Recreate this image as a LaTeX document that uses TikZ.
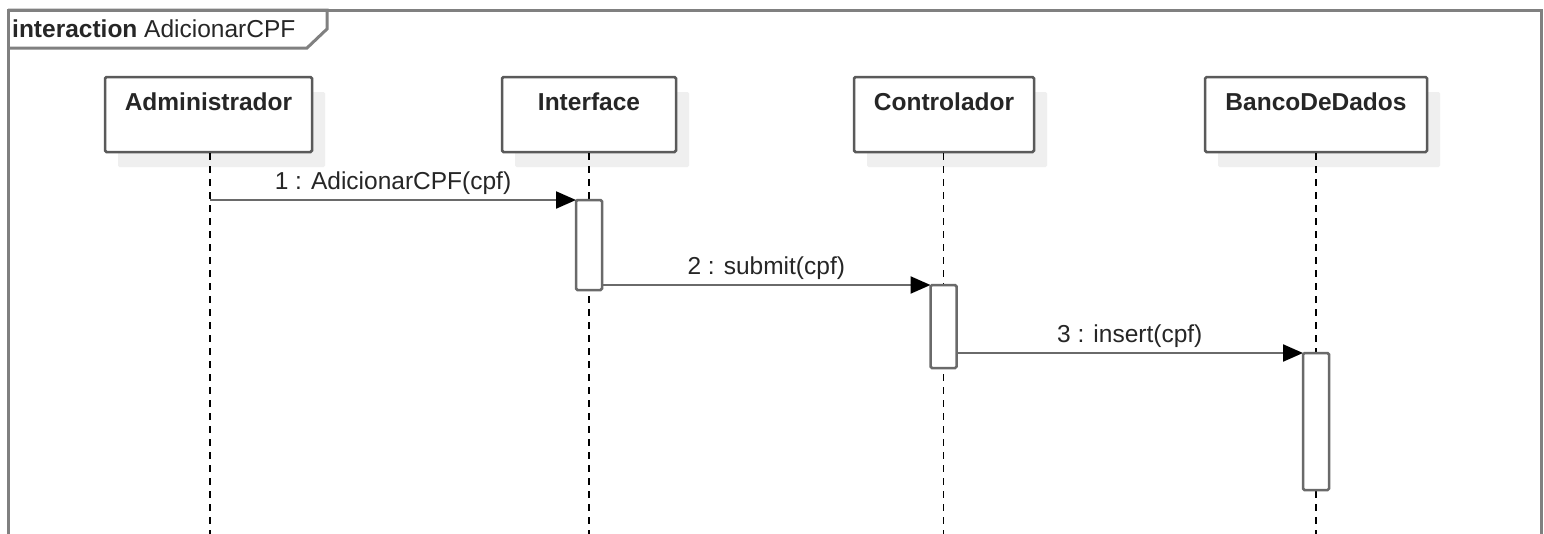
\documentclass[tikz,border=0pt]{standalone}
\usepackage{fontspec}
\setmainfont{Liberation Sans}
\usetikzlibrary{arrows.meta,shadows}
\definecolor{framegray}{HTML}{808080}
\definecolor{boxgray}{HTML}{5A5A5A}
\definecolor{msggray}{HTML}{6A6A6A}
\definecolor{shadowgray}{HTML}{EFEFEF}
\tikzset{
  txt/.style={font=\fontsize{24.5}{29}\selectfont, inner sep=0pt, text=black!85},
  boldtxt/.style={txt, font=\fontsize{24.5}{29}\selectfont\bfseries},
  lifebox/.style={draw=boxgray, line width=2.5pt, fill=white, rounded corners=1.5pt,
    drop shadow={shadow xshift=13pt, shadow yshift=-15pt, fill=shadowgray, opacity=1}},
  actbar/.style={draw=msggray, line width=2.5pt, fill=white, rounded corners=1.5pt,
    minimum width=26pt, outer sep=0pt},
  lifeline/.style={draw=black, line width=1.8pt, dash pattern=on 7pt off 6pt},
  msg/.style={draw=msggray, line width=2.2pt, -{Triangle[length=20pt,width=17pt,color=black]}},
  framestyle/.style={draw=framegray, line width=3pt}
}
\begin{document}
\begin{tikzpicture}[x=1pt,y=-1pt]
\useasboundingbox (0,0) rectangle (1544,533);
\fill[white] (0,0) rectangle (1544,533);
% frame
\coordinate (fbl) at (8,540);
\coordinate (ftl) at (8,10);
\coordinate (ftr) at (1541,10);
\coordinate (fbr) at (1541,540);
\draw[framestyle] (fbl) -- (ftl) -- (ftr) -- (fbr);
\draw[framestyle, line join=miter] (8,10) -- (327,10) -- (327,29) -- (307,48) -- (8,48);
\node[txt, anchor=base west] (title) at (12,37) {\textbf{interaction} AdicionarCPF};
% lifeline heads
\node[lifebox, minimum width=207pt, minimum height=75pt] (adm) at (208.5,114.5) {};
\node[lifebox, minimum width=174pt, minimum height=75pt] (int) at (589,114.5) {};
\node[lifebox, minimum width=180pt, minimum height=75pt] (ctl) at (944,114.5) {};
\node[lifebox, minimum width=222pt, minimum height=75pt] (bd) at (1316,114.5) {};
\node[boldtxt, anchor=base] (admT) at (adm.north |- 0,110) {Administrador};
\node[boldtxt, anchor=base] (intT) at (int.north |- 0,110) {Interface};
\node[boldtxt, anchor=base] (ctlT) at (ctl.north |- 0,110) {Controlador};
\node[boldtxt, anchor=base] (bdT) at (bd.north |- 0,110) {BancoDeDados};
% lifeline ends
\coordinate (admS) at (210,153);
\coordinate (intS) at (589,153);
\coordinate (ctlS) at (943.5,153);
\coordinate (bdS) at (1316,153);
\coordinate (admE) at (210,540);
\coordinate (intE) at (589,540);
\coordinate (ctlE) at (943.5,540);
\coordinate (bdE) at (1316,540);
\draw[lifeline] (admS) -- (admE);
\draw[lifeline] (intS) -- (intE);
\draw[lifeline] (ctlS) -- (ctlE);
\draw[lifeline] (bdS) -- (bdE);
% activation bars
\node[actbar, minimum height=90pt] (a1) at (589,245) {};
\node[actbar, minimum height=83pt] (a2) at (943.5,326.5) {};
\node[actbar, minimum height=137pt] (a3) at (1316,421.5) {};
% messages
\draw[msg] (admS |- a1.north west) -- node[txt, above=4pt] (l1) {1 : AdicionarCPF(cpf)} (a1.north west);
\draw[msg] (a1.east |- a2.north west) -- node[txt, above=4pt] (l2) {2 : submit(cpf)} (a2.north west);
\draw[msg] (a2.east |- a3.north west) -- node[txt, above=4pt] (l3) {3 : insert(cpf)} (a3.north west);
\end{tikzpicture}
\end{document}
